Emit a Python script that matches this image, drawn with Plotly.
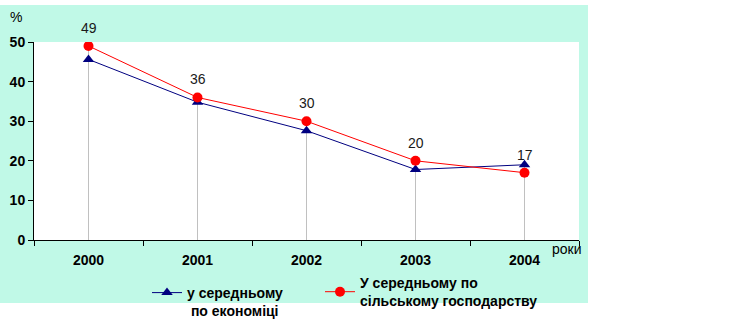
import plotly.graph_objects as go

# Середня заробітна плата, % — дані по роках
years = ["2000", "2001", "2002", "2003", "2004"]
economy = [45.6, 34.8, 27.6, 17.8, 19.0]        # у середньому по економіці
agriculture = [49, 36, 30, 20, 17]              # у середньому по сільському господарству
agri_labels = ["49", "36", "30", "20", "17"]
y_ticks = [0, 10, 20, 30, 40, 50]

W, H = 751, 334
L, R, T, B = 34, 172, 42, 94
PW, PH = W - L - R, H - T - B


def px_x(px):
    return (px - L) / PW


def px_y(py):
    return (H - B - py) / PH


FONT = "Liberation Sans, Arial, sans-serif"
NAVY = "#000080"
RED = "#FF0000"
MINT = "#C0F9E7"

fig = go.Figure()

# drop lines from the higher point of each year to the axis
dx, dy = [], []
for i, (a, b) in enumerate(zip(economy, agriculture)):
    dx += [i, i, None]
    dy += [0, max(a, b), None]
fig.add_trace(go.Scatter(x=dx, y=dy, mode="lines", line=dict(color="#C0C0C0", width=1),
                         showlegend=False, hoverinfo="skip"))

idx = list(range(len(years)))
fig.add_trace(go.Scatter(
    x=idx, y=economy, mode="lines+markers", name="у середньому<br>&nbsp;по економіці",
    line=dict(color=NAVY, width=1), marker=dict(symbol="triangle-up", size=10, color=NAVY),
    legend="legend"))
fig.add_trace(go.Scatter(
    x=idx, y=agriculture, mode="lines+markers", name="У середньому по<br>сільському господарству",
    line=dict(color=RED, width=1), marker=dict(symbol="circle", size=10, color=RED),
    legend="legend2"))

annotations = [
    dict(x=i, y=v, text=t, showarrow=False, yshift=18, xref="x", yref="y",
         font=dict(family=FONT, size=14, color="#1a1a1a"))
    for i, (v, t) in enumerate(zip(agriculture, agri_labels))
]
annotations += [
    dict(x=px_x(8), y=px_y(17), xref="paper", yref="paper", text="%", showarrow=False,
         xanchor="left", yanchor="middle", font=dict(family=FONT, size=14, color="#000")),
    dict(x=px_x(584), y=px_y(249), xref="paper", yref="paper", text="роки", showarrow=False,
         xanchor="right", yanchor="middle", font=dict(family=FONT, size=14, color="#000")),
]

shapes = [
    dict(type="rect", xref="paper", yref="paper", x0=px_x(0), x1=px_x(588), y0=px_y(303), y1=px_y(5),
         fillcolor=MINT, line=dict(width=0), layer="below"),
    dict(type="rect", xref="paper", yref="paper", x0=0, x1=1, y0=0, y1=1,
         fillcolor="white", line=dict(width=0), layer="below"),
]

legend_font = dict(family=FONT, size=14, color="#000", weight="bold")

fig.update_layout(
    width=W, height=H,
    margin=dict(l=L, r=R, t=T, b=B, autoexpand=False),
    paper_bgcolor="white", plot_bgcolor="white",
    shapes=shapes, annotations=annotations,
    legend=dict(x=px_x(147), y=px_y(277), xanchor="left", yanchor="top", orientation="h",
                font=legend_font, bgcolor="rgba(0,0,0,0)", valign="top"),
    legend2=dict(x=px_x(320), y=px_y(267), xanchor="left", yanchor="top", orientation="h",
                 font=legend_font, bgcolor="rgba(0,0,0,0)", valign="middle"),
    xaxis=dict(range=[-0.5, 4.5], tickvals=idx, ticktext=years, showline=True,
               linecolor="#000", linewidth=1, ticks="", showgrid=False, zeroline=False,
               ticklabelstandoff=7,
               tickfont=dict(family=FONT, size=14, color="#000", weight="bold"),
               minor=dict(tickvals=[i - 0.5 for i in idx] + [len(idx) - 0.5], ticks="outside",
                          ticklen=5, tickcolor="#000", showgrid=False)),
    yaxis=dict(range=[0, 50], tickvals=y_ticks, showline=True, linecolor="#000", linewidth=1,
               ticks="outside", ticklen=5, tickcolor="#000", showgrid=False, zeroline=False,
               tickfont=dict(family=FONT, size=14, color="#000", weight="bold")),
)

fig.write_html("out.html")
